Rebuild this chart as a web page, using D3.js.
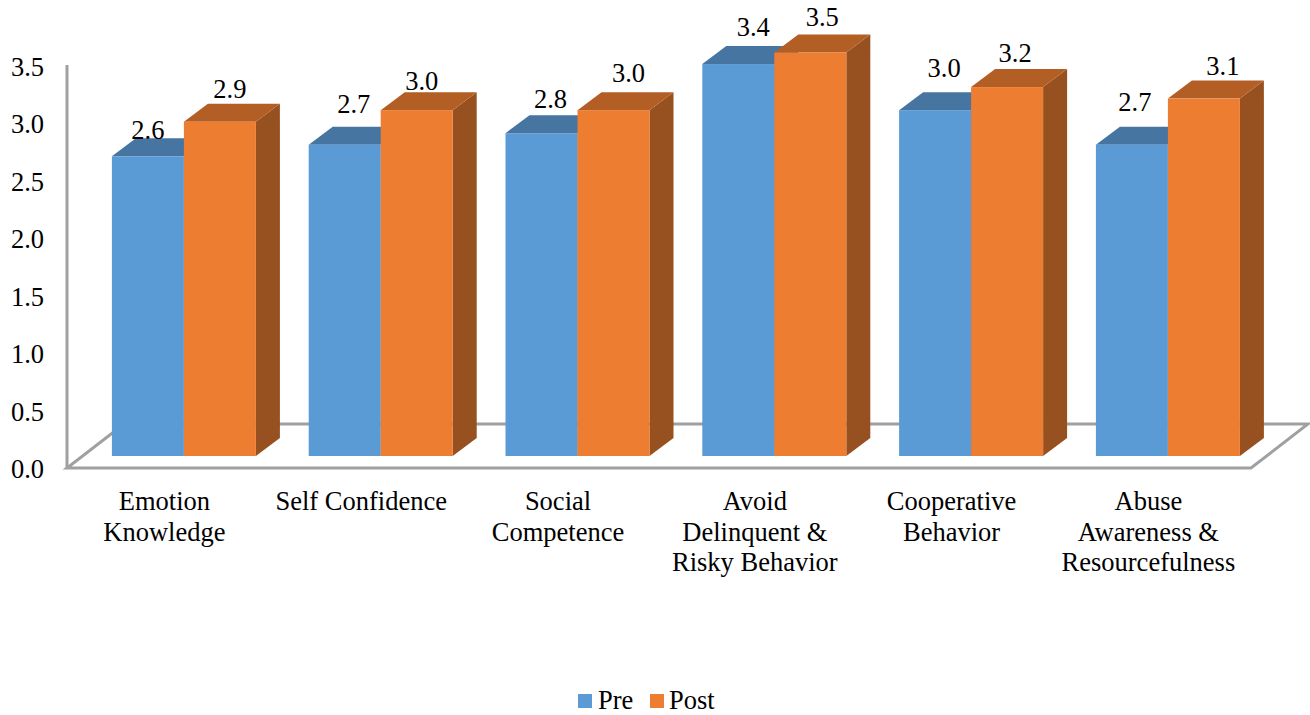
<!DOCTYPE html>
<html><head><meta charset="utf-8">
<script src="https://cdn.jsdelivr.net/npm/d3@7"></script>
<style>html,body{margin:0;padding:0;background:#fff;overflow:hidden}svg{display:block}text{font-family:"Liberation Serif",serif;fill:#000}</style>
</head><body><svg id="c" width="1310" height="715"></svg>
<script>
const categories=[["Emotion","Knowledge"],["Self Confidence"],["Social","Competence"],["Avoid","Delinquent &","Risky Behavior"],["Cooperative","Behavior"],["Abuse","Awareness &","Resourcefulness"]];
const preValues=[2.6,2.7,2.8,3.4,3.0,2.7];
const postValues=[2.9,3.0,3.0,3.5,3.2,3.1];
const seriesNames=["Pre","Post"];
const yTicks=[0,0.5,1,1.5,2,2.5,3,3.5];
const preNudge=[[0,-17],[9,-32],[9,-25],[15,-28],[9,-33],[3,-34]];
const postNudge=[[10,-24],[5,-20],[15,-28],[12,-27],[8,-25],[19,-24]];

const svg=d3.select("#c");
const fontSize=26.5;
const yBar=d3.scaleLinear().domain([0,3.5]).range([456,52.5]);
const yAxisScale=d3.scaleLinear().domain([0,3.5]).range([469.5,67]);
const xGroup=d3.scaleBand().domain(d3.range(categories.length)).range([85.5,1266.3]);
const barW=72, depthX=24, depthY=18;
const colors=[{front:"#5B9BD5",top:"#4675A1",side:"#3F6B94"},{front:"#ED7D31",top:"#B35E24",side:"#97501F"}];
const grey="#A0A0A0";

// floor and wall
const floor=[[67,468],[1251,468],[1308,424],[124,424]];
svg.append("path").attr("d",d3.line()(floor)+"Z").attr("fill","none").attr("stroke",grey).attr("stroke-width",3);
svg.append("line").attr("x1",67).attr("x2",67).attr("y1",65).attr("y2",468).attr("stroke",grey).attr("stroke-width",3);

// y axis labels
const axis=d3.axisLeft(yAxisScale).tickValues(yTicks).tickFormat(d3.format(".1f")).tickSize(0).tickPadding(0);
const ga=svg.append("g").attr("transform","translate(44,0)").call(axis);
ga.select(".domain").remove();
ga.selectAll("text").attr("font-size",fontSize).attr("font-family","Liberation Serif").attr("fill","#000");

// bars
const groups=svg.selectAll("g.grp").data(categories).join("g").attr("class","grp");
function barX(i,s){return xGroup(i)+(xGroup.bandwidth()-2*barW)/2+s*barW;}
[preValues,postValues].forEach((vals,s)=>{
  const c=colors[s];
  groups.each(function(_,i){
    const g=d3.select(this), x=barX(i,s), t=yBar(vals[i]), b=yBar(0);
    g.append("path").attr("d",d3.line()([[x+barW,t],[x+barW+depthX,t-depthY],[x+barW+depthX,b-depthY],[x+barW,b]])+"Z").attr("fill",c.side);
    g.append("path").attr("d",d3.line()([[x,t],[x+depthX,t-depthY],[x+barW+depthX,t-depthY],[x+barW,t]])+"Z").attr("fill",c.top);
    g.append("rect").attr("x",x).attr("y",t).attr("width",barW).attr("height",b-t).attr("fill",c.front);
  });
});

// data labels
[[preValues,preNudge],[postValues,postNudge]].forEach(([vals,nudge],s)=>{
  svg.append("g").selectAll("text").data(vals).join("text")
    .attr("x",(d,i)=>barX(i,s)+barW/2+nudge[i][0])
    .attr("y",(d,i)=>yBar(d)+nudge[i][1])
    .attr("text-anchor","middle").attr("font-size",fontSize)
    .text(d=>d3.format(".1f")(d));
});

// category labels
const catCentres=d3.range(categories.length).map(i=>barX(i,1)-19.5);
svg.append("g").selectAll("text").data(categories).join("text")
  .attr("text-anchor","middle").attr("font-size",fontSize)
  .each(function(lines,i){
    d3.select(this).selectAll("tspan").data(lines).join("tspan")
      .attr("x",catCentres[i]).attr("y",(d,j)=>510+j*30.5).text(d=>d);
  });

// legend
const legendX=[578,650], legendText=[598,669];
const lg=svg.append("g").selectAll("g").data(seriesNames).join("g");
lg.append("rect").attr("x",(d,i)=>legendX[i]).attr("y",694).attr("width",14).attr("height",14).attr("fill",(d,i)=>colors[i].front);
lg.append("text").attr("x",(d,i)=>legendText[i]).attr("y",709).attr("font-size",fontSize).text(d=>d);
</script></body></html>
